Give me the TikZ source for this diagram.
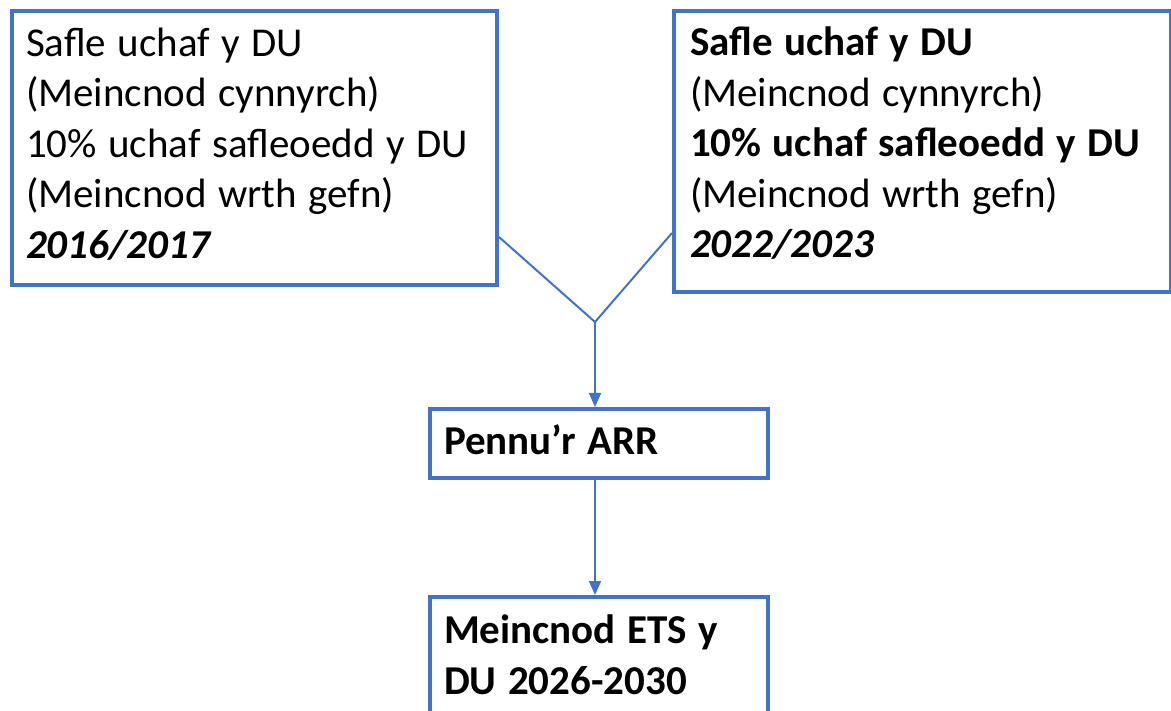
\documentclass[tikz,border=0pt]{standalone}
\usepackage{fontspec}
\setmainfont{Carlito}
\usetikzlibrary{arrows.meta}
\definecolor{boxblue}{HTML}{4472C4}
% text block: #1 extra bottom depth (shifts text up by half), #2 width, #3 lines
\newcommand{\bxtext}[3]{\raisebox{0pt}[\height][\dimexpr\depth+#1\relax]{\begin{minipage}{#2}\raggedright\spaceskip 11.5pt\relax #3\end{minipage}}}
\begin{document}
\begin{tikzpicture}[x=1pt,y=-1pt,
  box/.style={draw=boxblue, line width=4pt, anchor=north west, inner xsep=14pt, inner ysep=0pt,
    font=\fontsize{41}{50.5}\selectfont},
  conn/.style={draw=boxblue, line width=2pt},
  arr/.style={conn, -{Triangle[length=14pt,width=12pt]}}]
\useasboundingbox (0,0) rectangle (1171,711);
\node[box, minimum width=485pt, minimum height=274pt] (lb) at (10,9)
  {\bxtext{8pt}{457pt}{Safle uchaf y DU\\(Meincnod cynnyrch)\\10\% uchaf safleoedd y DU\\(Meincnod wrth gefn)\\\textbf{\textit{2016/2017}}}};
\node[box, minimum width=497pt, minimum height=281pt, inner xsep=16pt] (rb) at (672,9)
  {\bxtext{16pt}{465pt}{\textbf{Safle uchaf y DU}\\(Meincnod cynnyrch)\\\textbf{10\% uchaf safleoedd y DU}\\(Meincnod wrth gefn)\\\textbf{\textit{2022/2023}}}};
\node[box, minimum width=338pt, minimum height=69pt] (pn) at (428,407)
  {\bxtext{8pt}{310pt}{\textbf{Pennu’r ARR}}};
\node[box, minimum width=338pt, minimum height=122pt] (bt) at (428,595)
  {\bxtext{6pt}{310pt}{\textbf{Meincnod ETS y}\\\textbf{DU 2026-2030}}};
\coordinate (j) at (595,322);
\draw[conn] ([yshift=50pt]lb.south east) -- (j);
\draw[conn] ([yshift=61pt]rb.south west) -- (j);
\draw[arr] (j) -- (j |- pn.north);
\draw[arr] (pn.south -| j) -- (j |- bt.north);
\end{tikzpicture}
\end{document}
